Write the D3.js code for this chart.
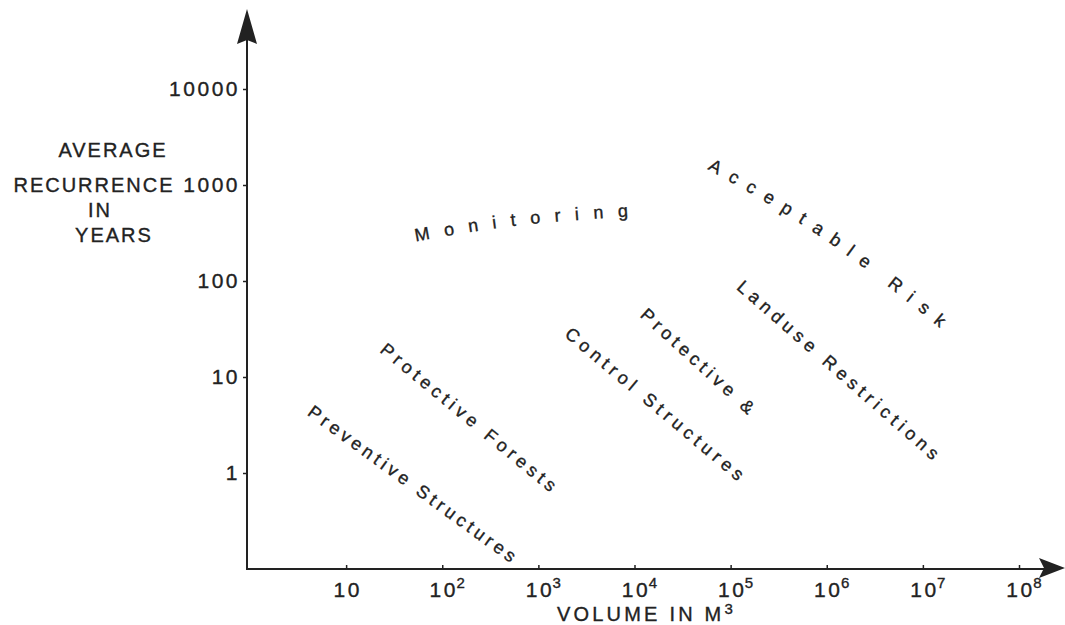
<!DOCTYPE html>
<html>
<head>
<meta charset="utf-8">
<script src="https://cdn.jsdelivr.net/npm/d3@7"></script>
<style>
  html, body { margin: 0; padding: 0; background: #fff; }
  svg { display: block; }
  text { font-family: "Liberation Sans", Arial, Helvetica, sans-serif; fill: #222; stroke: #222; stroke-width: 0.35px; }
</style>
</head>
<body>
<div id="container"></div>
<script>
// ---------------------------- DATA ----------------------------
const xTicks = [1e1, 1e2, 1e3, 1e4, 1e5, 1e6, 1e7, 1e8];
const xTickBase = "10";
const xTickExp = ["", "2", "3", "4", "5", "6", "7", "8"];
const yTicks = [1, 10, 100, 1000, 10000];
const yTickLabels = ["1", "10", "100", "1000", "10000"];

const yTitle = ["AVERAGE", "RECURRENCE", "IN", "YEARS"];
const xTitle = "VOLUME IN M";
const xTitleExp = "3";

// zone names, each written along a line through [volume m3, recurrence years]
const zoneNames = [
  "Preventive Structures",
  "Protective Forests",
  "Control Structures",
  "Protective &",
  "Landuse Restrictions",
  "Acceptable Risk",
  "Monitoring"
];
const zoneLines = [
  [[3.7, 5.0], [630, 0.118]],
  [[20, 24], [1740, 0.6]],
  [[1700, 34.5], [153000, 0.79]],
  [[10350, 56], [198000, 3.8]],
  [[102600, 110], [16.7e6, 1.27]],
  [[48000, 1910], [1.05e6, 300], [20.4e6, 30.4]],
  [[41, 284], [545, 431], [10870, 550]]
];

// --------------------------- LAYOUT ---------------------------
const width = 1065;
const height = 625;
const ink = "#222";
const zoneSpacing = [4, 4.5, 4.8, 4.5, 4.9, 11, 14.5];
const yTitleX = [113, 94, 100, 114];
const yTitleY = [157, 192, 217, 242];

const svg = d3.select("#container").append("svg")
    .attr("width", width)
    .attr("height", height);

const xScale = d3.scaleLog().domain([1, 1e8]).range([250, 1019]);
const yScale = d3.scaleLog().domain([0.1, 1e4]).range([569, 89]);

const axisX = xScale(1) - 3;
const axisY = yScale(0.1);

//----------------------------- AXES -----------------------------
svg.append("line")
    .attr("x1", axisX).attr("y1", axisY)
    .attr("x2", axisX).attr("y2", 40)
    .attr("stroke", ink).attr("stroke-width", 2);

svg.append("path")
    .attr("d", `M${axisX},9 L${axisX + 10},44 L${axisX},40 L${axisX - 10},44 Z`)
    .attr("fill", ink);

svg.append("line")
    .attr("x1", axisX - 1).attr("y1", axisY)
    .attr("x2", 1044).attr("y2", axisY)
    .attr("stroke", ink).attr("stroke-width", 2);

svg.append("path")
    .attr("d", `M1065,${axisY - 1} L1039,${axisY - 11} L1044,${axisY - 1} L1039,${axisY + 9} Z`)
    .attr("fill", ink);

// y ticks
const yAxis = d3.axisLeft(yScale)
    .tickValues(yTicks)
    .tickSize(4)
    .tickPadding(3)
    .tickFormat((d, i) => yTickLabels[i]);

const gy = svg.append("g")
    .attr("transform", `translate(${axisX},0)`)
    .call(yAxis);
gy.select(".domain").remove();
gy.selectAll(".tick line").attr("stroke", ink).attr("stroke-width", 1.5);
gy.selectAll(".tick text")
    .attr("fill", ink)
    .style("font-size", "21px")
    .style("letter-spacing", "2.5px")
    .attr("dy", "0.33em");

// x ticks (pointing inward)
const xAxis = d3.axisBottom(xScale)
    .tickValues(xTicks)
    .tickSize(-4)
    .tickFormat("");

const gx = svg.append("g")
    .attr("transform", `translate(0,${axisY})`)
    .call(xAxis);
gx.select(".domain").remove();
gx.selectAll(".tick line").attr("stroke", ink).attr("stroke-width", 1.5);

const xLabels = svg.append("g").selectAll("g")
    .data(xTicks)
    .join("g")
    .attr("transform", d => `translate(${xScale(d)},${axisY + 28})`);

xLabels.append("text")
    .attr("class", "base")
    .attr("text-anchor", "middle")
    .attr("dx", 1.5)
    .style("font-size", "21px")
    .style("letter-spacing", "2.5px")
    .text(xTickBase);

xLabels.append("text")
    .attr("x", function() {
        const w = this.parentNode.querySelector(".base").getComputedTextLength();
        return w / 2;
    })
    .attr("y", -9)
    .style("font-size", "15px")
    .text((d, i) => xTickExp[i]);

//---------------------------- TITLES ----------------------------
svg.append("g").selectAll("text")
    .data(yTitle)
    .join("text")
    .attr("x", (d, i) => yTitleX[i])
    .attr("y", (d, i) => yTitleY[i])
    .attr("text-anchor", "middle")
    .style("font-size", "20px")
    .style("letter-spacing", "2px")
    .text(d => d);

const xt = svg.append("text")
    .attr("x", 557)
    .attr("y", 621)
    .style("font-size", "20px")
    .style("letter-spacing", "3.2px")
    .text(xTitle);
xt.append("tspan")
    .attr("dy", -7)
    .style("font-size", "15px")
    .text(xTitleExp);

//----------------------------- ZONES ----------------------------
const zoneLine = d3.line()
    .x(d => xScale(d[0]))
    .y(d => yScale(d[1]))
    .curve(d3.curveNatural);

const defs = svg.append("defs");
defs.selectAll("path")
    .data(zoneLines)
    .join("path")
    .attr("id", (d, i) => "zone-" + i)
    .attr("d", zoneLine);

svg.append("g").selectAll("text")
    .data(zoneNames)
    .join("text")
    .style("font-size", "18px")
    .style("letter-spacing", (d, i) => zoneSpacing[i] + "px")
    .attr("dominant-baseline", "central")
    .append("textPath")
    .attr("href", (d, i) => "#zone-" + i)
    .attr("text-anchor", "middle")
    .attr("startOffset", (d, i) => {
        const len = document.getElementById("zone-" + i).getTotalLength();
        return len / 2 + zoneSpacing[i] / 2;
    })
    .text(d => d);
</script>
</body>
</html>
